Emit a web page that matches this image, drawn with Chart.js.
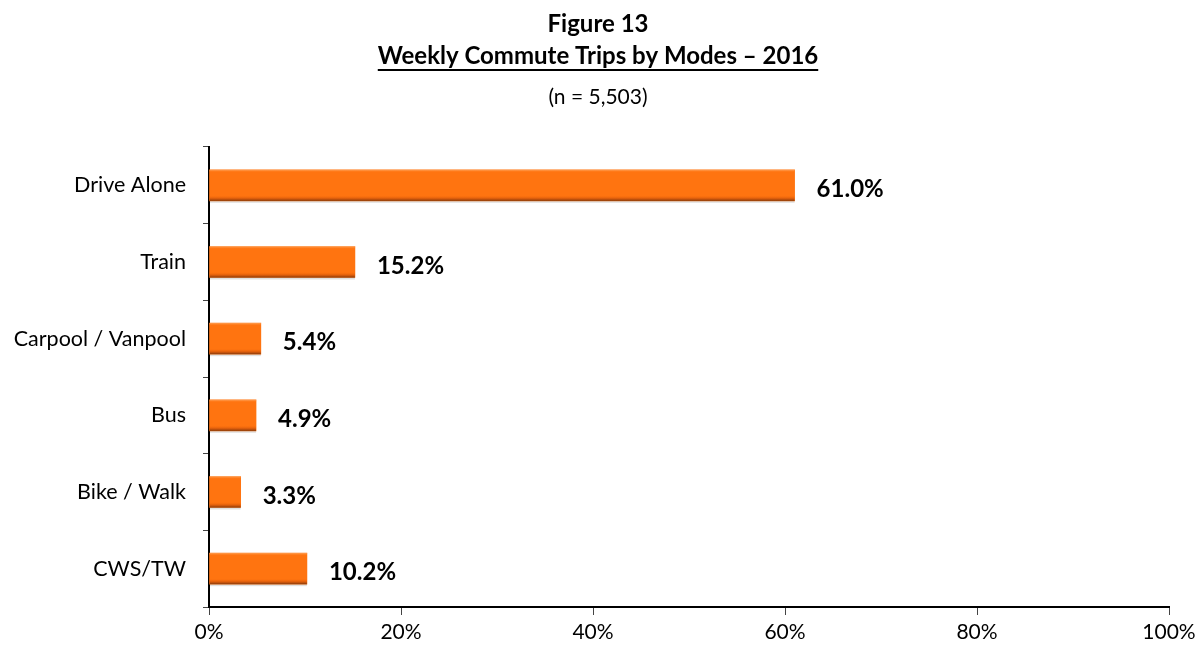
<!DOCTYPE html>
<html>
<head>
<meta charset="utf-8">
<script src="https://cdn.jsdelivr.net/npm/chart.js@4.4.0/dist/chart.umd.min.js"></script>
<style>
  html, body { margin: 0; padding: 0; background: #fff; }
  #wrap { width: 1197px; height: 649px; }
</style>
</head>
<body>
<div id="wrap"><canvas id="myChart" width="1197" height="649"></canvas></div>
<script>
const modes = ['Drive Alone', 'Train', 'Carpool / Vanpool', 'Bus', 'Bike / Walk', 'CWS/TW'];
const shares = [61.0, 15.2, 5.4, 4.9, 3.3, 10.2];
const xTicks = [0, 20, 40, 60, 80, 100];

const fontName = 'Lato, "Open Sans", sans-serif';

// title block with underline on the middle line
const titleBlock = {
    id: 'titleBlock',
    afterDraw(chart) {
        const c = chart.ctx;
        const cx = 598;
        c.save();
        c.fillStyle = '#000';
        c.textAlign = 'center';
        c.textBaseline = 'middle';
        c.font = 'bold 24px ' + fontName;
        c.fillText('Figure 13', cx, 24);
        const t = 'Weekly Commute Trips by Modes \u2013 2016';
        c.fillText(t, cx, 56);
        const w = c.measureText(t).width;
        c.fillRect(cx - w / 2, 69, w, 2);
        c.font = '21px ' + fontName;
        c.fillText('(n = 5,503)', cx, 97);
        c.restore();
    }
};

// shading on bars + value labels
const barLook = {
    id: 'barLook',
    afterDatasetsDraw(chart) {
        const c = chart.ctx;
        const meta = chart.getDatasetMeta(0);
        c.save();
        meta.data.forEach((bar, i) => {
            const left = bar.base;
            const right = bar.x;
            const top = bar.y - bar.height / 2;
            const h = bar.height;
            const g = c.createLinearGradient(0, top, 0, top + h);
            g.addColorStop(0, 'rgba(255,170,100,0.9)');
            g.addColorStop(0.08, 'rgba(255,120,20,0)');
            g.addColorStop(0.82, 'rgba(255,110,10,0)');
            g.addColorStop(0.92, 'rgba(200,80,10,0.6)');
            g.addColorStop(1, 'rgba(120,50,10,0.9)');
            c.fillStyle = g;
            c.fillRect(left, top, right - left, h);
            c.fillStyle = 'rgba(0,0,0,0.12)';
            c.fillRect(left, top + h, right - left, 2);

            c.fillStyle = '#000';
            c.font = 'bold 24px ' + fontName;
            c.textAlign = 'left';
            c.textBaseline = 'middle';
            c.fillText(shares[i].toFixed(1) + '%', right + 22, bar.y + 4);
        });
        c.restore();
    }
};

new Chart(document.getElementById('myChart'), {
    type: 'bar',
    data: {
        labels: modes,
        datasets: [{
            data: shares,
            backgroundColor: '#ff7410',
            borderWidth: 0,
            barThickness: 31
        }]
    },
    options: {
        indexAxis: 'y',
        responsive: false,
        animation: false,
        layout: { padding: { top: 147, right: 28, left: 0, bottom: 0 } },
        plugins: {
            legend: { display: false },
            tooltip: { enabled: false }
        },
        scales: {
            x: {
                min: 0,
                max: 100,
                afterBuildTicks: s => { s.ticks = xTicks.map(v => ({ value: v })); },
                afterFit: s => { s.height = 42; s.paddingRight = 0; s.paddingLeft = 0; },
                border: { color: '#000', width: 2 },
                grid: { drawOnChartArea: false, tickLength: 8, tickColor: '#444', tickWidth: 1 },
                ticks: {
                    color: '#000',
                    font: { family: fontName, size: 21 },
                    padding: 5,
                    maxRotation: 0,
                    callback: v => v + '%'
                }
            },
            y: {
                afterFit: s => { s.width = 209; },
                border: { color: '#000', width: 2 },
                grid: { offset: true, drawOnChartArea: false, tickLength: 6, tickColor: '#444', tickWidth: 1 },
                ticks: {
                    color: '#000',
                    font: { family: fontName, size: 21.5 },
                    padding: 17
                }
            }
        }
    },
    plugins: [titleBlock, barLook]
});
</script>
</body>
</html>
